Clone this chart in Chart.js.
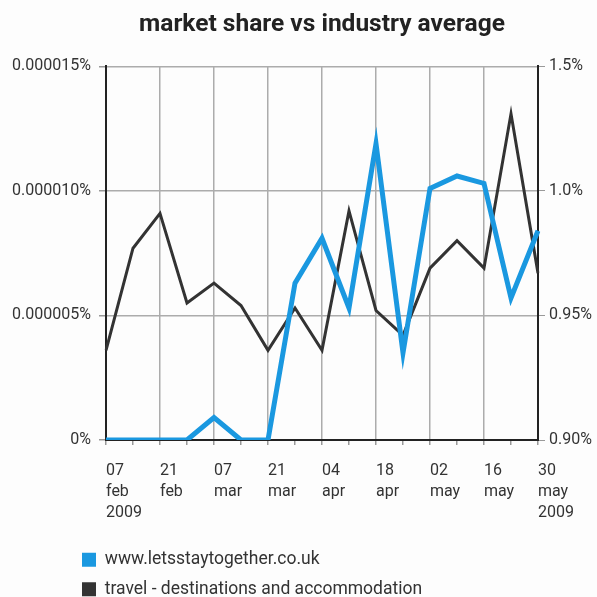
<!DOCTYPE html>
<html>
<head>
<meta charset="utf-8">
<title>market share vs industry average</title>
<script src="https://cdn.jsdelivr.net/npm/chart.js@4.4.1/dist/chart.umd.min.js"></script>
<style>
    html, body { margin: 0; padding: 0; background: #fdfdfd; overflow: hidden; }
    #wrap { width: 597px; height: 608px; position: relative; }
</style>
</head>
<body>
<div id="wrap"><canvas id="shareChart"></canvas></div>
<script>
// weekly categories
const weeks = ['07 feb 2009', '14 feb 2009', '21 feb 2009', '28 feb 2009', '07 mar 2009', '14 mar 2009',
    '21 mar 2009', '28 mar 2009', '04 apr 2009', '11 apr 2009', '18 apr 2009', '25 apr 2009',
    '02 may 2009', '09 may 2009', '16 may 2009', '23 may 2009', '30 may 2009'];

// x tick labels (every second week)
const weekTicks = [['07', 'feb', '2009'], '', ['21', 'feb'], '', ['07', 'mar'], '', ['21', 'mar'], '',
    ['04', 'apr'], '', ['18', 'apr'], '', ['02', 'may'], '', ['16', 'may'], '', ['30', 'may', '2009']];

// market share in % (left axis)
const siteShare = [0, 0, 0, 0, 0.0000009, 0, 0, 0.0000063, 0.0000081, 0.0000053, 0.0000119,
    0.0000035, 0.0000101, 0.0000106, 0.0000103, 0.0000057, 0.0000084];

// industry average in % (right axis)
const industryAvg = [0.936, 0.977, 0.991, 0.955, 0.963, 0.954, 0.936, 0.953, 0.936, 0.992, 0.952,
    0.942, 0.969, 0.980, 0.969, 1.031, 0.967];

const leftTicks = ['0%', '0.000005%', '0.000010%', '0.000015%'];
const rightTicks = ['0.90%', '0.95%', '1.0%', '1.5%'];

const siteLabel = 'www.letsstaytogether.co.uk';
const industryLabel = 'travel - destinations and accommodation';

const tickFont = { family: 'Roboto', size: 16 };
const gridGrey = '#acacac';

// legend sits under the axis labels, stacked and left aligned
const legendShift = {
    id: 'legendShift',
    afterLayout(chart) {
        const lg = chart.legend;
        if (lg) {
            const w = lg.width;
            lg.left = 70;
            lg.right = lg.left + w;
        }
    }
};

new Chart(document.getElementById('shareChart'), {
    type: 'line',
    data: {
        labels: weeks,
        datasets: [
            {
                label: siteLabel,
                data: siteShare,
                yAxisID: 'yShare',
                borderColor: '#1a98e0',
                backgroundColor: '#1a98e0',
                borderWidth: 5,
                pointRadius: 0,
                tension: 0
            },
            {
                label: industryLabel,
                data: industryAvg,
                yAxisID: 'yAvg',
                borderColor: '#333333',
                backgroundColor: '#333333',
                borderWidth: 3,
                pointRadius: 0,
                tension: 0
            }
        ]
    },
    options: {
        responsive: true,
        maintainAspectRatio: false,
        animation: false,
        layout: { padding: 0 },
        plugins: {
            title: {
                display: true,
                fullSize: false,
                text: 'market share vs industry average',
                color: '#222',
                font: { family: 'Roboto', size: 24.5, weight: 'bold', lineHeight: 1.2 },
                padding: { top: 10, bottom: 27 }
            },
            legend: {
                position: 'bottom',
                align: 'start',
                fullSize: false,
                labels: {
                    color: '#333',
                    font: { family: 'Roboto', size: 17.5 },
                    boxWidth: 14,
                    boxHeight: 14,
                    padding: 12,
                    generateLabels(chart) {
                        const items = Chart.defaults.plugins.legend.labels.generateLabels(chart);
                        items.forEach(it => { it.lineWidth = 0; });
                        return items;
                    }
                }
            },
            tooltip: { enabled: false }
        },
        scales: {
            x: {
                offset: false,
                afterFit(scale) { scale.height = 99; },
                grid: {
                    color: ctx => (ctx.index % 2 === 0 ? gridGrey : 'rgba(0,0,0,0)'),
                    lineWidth: 1.5,
                    tickColor: '#999',
                    tickLength: 5
                },
                border: { color: '#222', width: 2 },
                ticks: {
                    autoSkip: false,
                    maxRotation: 0,
                    align: 'start',
                    padding: 15,
                    color: '#333',
                    font: { family: 'Roboto', size: 16, lineHeight: 1.33 },
                    callback: (value, index) => weekTicks[index]
                }
            },
            yShare: {
                position: 'left',
                min: 0,
                max: 0.000015,
                afterFit(scale) { scale.width = 106; },
                ticks: {
                    stepSize: 0.000005,
                    padding: 8,
                    color: '#333',
                    font: tickFont,
                    callback: (value, index) => leftTicks[index]
                },
                grid: { color: gridGrey, lineWidth: 1.5, tickColor: '#999', tickLength: 7 },
                border: { color: '#222', width: 2 }
            },
            yAvg: {
                position: 'right',
                min: 0.90,
                max: 1.05,
                afterFit(scale) { scale.width = 59; },
                ticks: {
                    stepSize: 0.05,
                    padding: 4,
                    color: '#333',
                    font: tickFont,
                    callback: (value, index) => rightTicks[index]
                },
                grid: { drawOnChartArea: false, tickColor: '#999', tickLength: 7 },
                border: { color: '#222', width: 2 }
            }
        }
    },
    plugins: [legendShift]
});
</script>
</body>
</html>
